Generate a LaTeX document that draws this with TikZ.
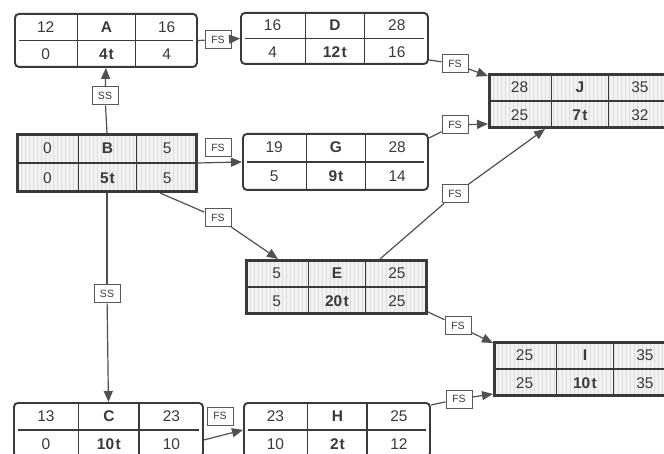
\documentclass[tikz,border=0pt]{standalone}
\usepackage{fontspec}
\setmainfont{Liberation Sans}
\usetikzlibrary{calc,arrows.meta}
\definecolor{ink}{HTML}{3A3A3A}
\definecolor{linec}{HTML}{505050}
\tikzset{
  plainbox/.style={draw=ink, line width=1.9pt, rounded corners=4pt, fill=white, inner sep=0pt},
  critbox/.style={draw=ink, line width=3pt, fill=gray!10, inner sep=0pt,
    path picture={\foreach \k in {0,4,...,200}{\draw[gray!26,line width=0.5pt] ([xshift=\k pt]path picture bounding box.south west) -- ([xshift=\k pt]path picture bounding box.north west);}}},
  innerl/.style={draw=ink, line width=1.2pt},
  txt/.style={text=ink, font=\fontsize{15.5}{16}\selectfont, inner sep=0pt},
  lab/.style={draw=ink!85, line width=1pt, fill=white, text=ink, font=\fontsize{10.5}{11}\selectfont, minimum width=26pt, minimum height=18pt, inner sep=0pt},
  conn/.style={draw=linec, line width=1.2pt},
  arr/.style={conn, -{Triangle[length=11pt,width=9pt]}},
}
\newcommand\actbox[6]{\node[#2, minimum width=#5pt, minimum height=#6pt, anchor=north west] (#1) at (#3,#4) {};}
\newcommand\cells[8][0]{%
  \draw[innerl] ($(#2.north west)!0.345!(#2.north east)$) -- ($(#2.south west)!0.345!(#2.south east)$);
  \draw[innerl] ($(#2.north west)!0.66!(#2.north east)$) -- ($(#2.south west)!0.66!(#2.south east)$);
  \draw[innerl] ($(#2.west)+(#1,0)$) -- ($(#2.east)-(#1,0)$);
  \coordinate (#2-ra) at ($(#2.north west)!0.25!(#2.south west)$);
  \coordinate (#2-rb) at ($(#2.north east)!0.25!(#2.south east)$);
  \coordinate (#2-sa) at ($(#2.north west)!0.75!(#2.south west)$);
  \coordinate (#2-sb) at ($(#2.north east)!0.75!(#2.south east)$);
  \node[txt] (#2-1) at ($(#2-ra)!0.1725!(#2-rb)$) {#3};
  \node[txt] (#2-2) at ($(#2-ra)!0.5025!(#2-rb)$) {\textbf{#4}};
  \node[txt] (#2-3) at ($(#2-ra)!0.83!(#2-rb)$) {#5};
  \node[txt] (#2-4) at ($(#2-sa)!0.1725!(#2-sb)$) {#6};
  \node[txt] (#2-5) at ($(#2-sa)!0.5025!(#2-sb)$) {\textbf{#7}};
  \node[txt] (#2-6) at ($(#2-sa)!0.83!(#2-sb)$) {#8};
}
\begin{document}
\begin{tikzpicture}[x=1pt,y=-1pt]
\useasboundingbox (0,0) rectangle (664,454);
% activity boxes
\actbox{A}{plainbox}{14}{13}{182}{53}
\actbox{D}{plainbox}{240}{12}{187}{51}
\actbox{J}{critbox}{488}{73}{180}{53}
\actbox{B}{critbox}{16}{133}{179}{57}
\actbox{G}{plainbox}{242}{133}{185}{56}
\actbox{E}{critbox}{245}{259}{180}{53}
\actbox{I}{critbox}{493}{341}{180}{53}
\actbox{C}{plainbox}{13}{402}{189}{54}
\actbox{H}{plainbox}{243}{402}{186}{54}
\cells[5]{A}{12}{A}{16}{0}{4\hspace{1pt}t}{4}
\cells[5]{D}{16}{D}{28}{4}{12\hspace{1.5pt}t}{16}
\cells{J}{28}{J}{35}{25}{7\hspace{1.5pt}t}{32}
\cells{B}{0}{B}{5}{0}{5\hspace{1pt}t}{5}
\cells[5]{G}{19}{G}{28}{5}{9\hspace{1pt}t}{14}
\cells{E}{5}{E}{25}{5}{20\hspace{1.5pt}t}{25}
\cells{I}{25}{I}{35}{25}{10\hspace{1.5pt}t}{35}
\cells[5]{C}{13}{C}{23}{0}{10\hspace{1.5pt}t}{10}
\cells[5]{H}{23}{H}{25}{10}{2\hspace{1pt}t}{12}
% relation labels
\node[lab] (lBA) at (105,96) {SS};
\node[lab] (lBC) at (107,294) {SS};
\node[lab] (lAD) at (218,40) {FS};
\node[lab] (lDJ) at (455,64) {FS};
\node[lab] (lGJ) at (455,125) {FS};
\node[lab] (lBG) at (218,148) {FS};
\node[lab] (lBE) at (218,218) {FS};
\node[lab] (lEJ) at (455,194) {FS};
\node[lab] (lEI) at (458,326) {FS};
\node[lab] (lHI) at (459,399) {FS};
\node[lab] (lCH) at (220,416) {FS};
% connectors
\draw[conn] (B.north) -- (lBA); \draw[arr] (lBA) -- (A.south);
\draw[conn] (B.south) -- (lBC); \draw[arr] (lBC) -- (C.north);
\draw[conn] (A.east) -- (lAD); \draw[arr] (lAD) -- (D.west);
\draw[conn] ($(D.south east)+(0,-5)$) -- (lDJ); \draw[arr] (lDJ) -- ($(J.north west)+(0,3)$);
\draw[conn] ($(G.north east)+(0,5)$) -- (lGJ); \draw[arr] (lGJ) -- ($(J.south west)+(0,-5)$);
\draw[arr] (B.east) -- (G.west);
\draw[conn] ($(B.south east)+(-38,0)$) -- (lBE); \draw[arr] (lBE) -- ($(E.north west)+(33,0)$);
\draw[conn] ($(E.north east)+(-48,0)$) -- (lEJ); \draw[arr] (lEJ) -- ($(J.south west)+(57,0)$);
\draw[conn] ($(E.south east)+(0,-3)$) -- (lEI); \draw[arr] (lEI) -- ($(I.north west)+(0,2)$);
\draw[conn] ($(H.north east)+(0,3)$) -- (lHI); \draw[arr] (lHI) -- ($(I.south west)+(0,-3)$);
\draw[arr] ($(C.east)+(0,10)$) -- (H.west);
\end{tikzpicture}
\end{document}
